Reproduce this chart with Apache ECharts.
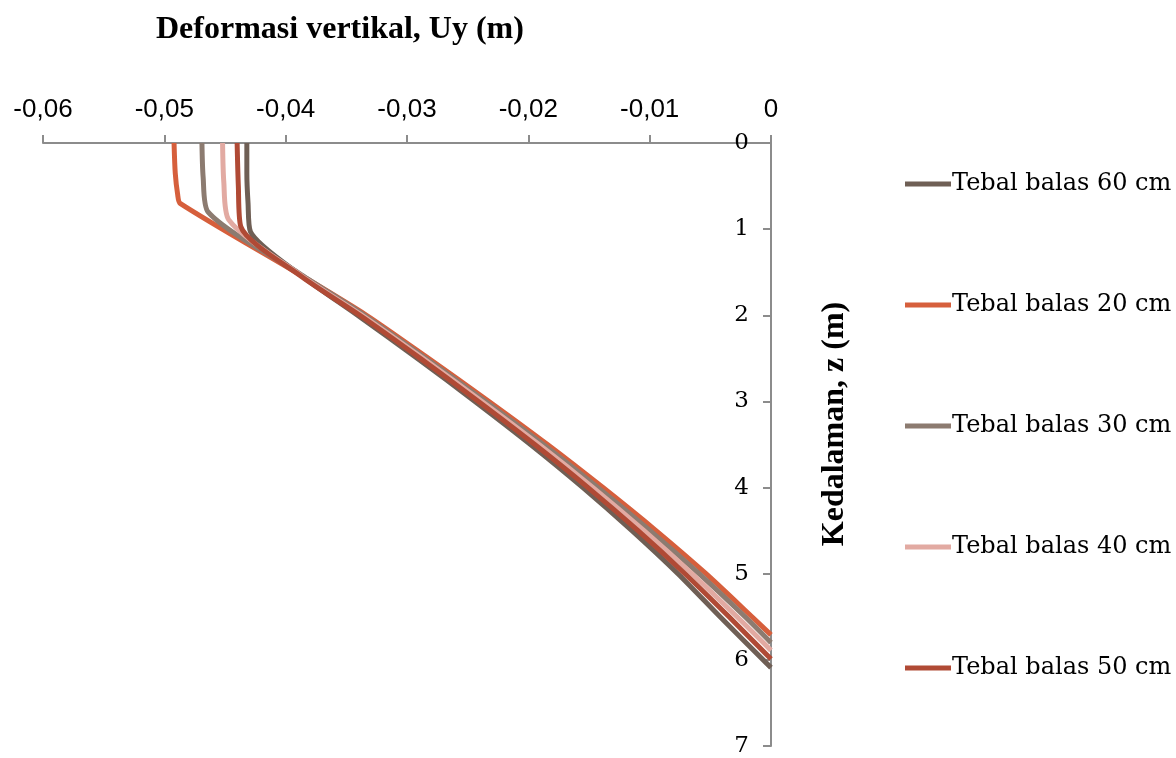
<!DOCTYPE html>
<html>
<head>
<meta charset="utf-8">
<script src="https://cdn.jsdelivr.net/npm/echarts@6/dist/echarts.min.js"></script>
<style>
html,body{margin:0;padding:0;background:#fff;}
#chart{width:1176px;height:758px;}
</style>
</head>
<body>
<div id="chart"></div>
<script>
// Series names (legend order)
var seriesNames = ['Tebal balas 60 cm','Tebal balas 20 cm','Tebal balas 30 cm','Tebal balas 40 cm','Tebal balas 50 cm'];
var seriesColors = ['#6F5F55','#D65F3C','#8C7B70','#E2AAA2','#B04A35'];

// Depth z (m) and vertical deformation Uy (m) for each series
var z60  = [0, 0.35, 0.7, 1.03, 1.55, 2, 2.5, 3, 3.5, 4, 4.5, 5, 5.5, 6.09];
var uy60 = [-0.0432, -0.0432, -0.0431, -0.0429, -0.0386, -0.03408, -0.02914, -0.02440, -0.01982, -0.01550, -0.01146, -0.00767, -0.00420, 0];

var z20  = [0, 0.35, 0.6, 0.7, 1.53, 2, 2.5, 3, 3.5, 4, 4.5, 5, 5.5, 5.71];
var uy20 = [-0.0492, -0.0491, -0.0489, -0.0487, -0.0388, -0.03334, -0.02823, -0.02324, -0.01842, -0.01385, -0.00948, -0.00536, -0.00157, 0];

var z30  = [0, 0.4, 0.8, 1.53, 2, 2.5, 3, 3.5, 4, 4.5, 5, 5.5, 5.80];
var uy30 = [-0.0469, -0.0468, -0.0464, -0.0387, -0.03352, -0.02846, -0.02353, -0.01877, -0.01426, -0.00997, -0.00593, -0.00214, 0];

var z40  = [0, 0.45, 0.89, 1.54, 2, 2.5, 3, 3.5, 4, 4.5, 5, 5.5, 5.89];
var uy40 = [-0.0452, -0.0451, -0.0447, -0.0387, -0.03371, -0.02868, -0.02382, -0.01912, -0.01467, -0.01047, -0.00651, -0.00280, 0];

var z50  = [0, 0.5, 0.97, 1.55, 2, 2.5, 3, 3.5, 4, 4.5, 5, 5.5, 5.99];
var uy50 = [-0.0440, -0.0439, -0.0437, -0.0387, -0.03389, -0.02891, -0.02411, -0.01947, -0.01508, -0.01096, -0.00709, -0.00346, 0];

var depthArrays = [z60, z20, z30, z40, z50];
var uyArrays = [uy60, uy20, uy30, uy40, uy50];

var xTitle = 'Deformasi vertikal, Uy (m)';
var yTitle = 'Kedalaman, z (m)';

function zip(xs, zs){ return xs.map(function(x,i){ return [x, zs[i]]; }); }

var series = seriesNames.map(function(name, i){
  return {
    name: name,
    type: 'line',
    data: zip(uyArrays[i], depthArrays[i]),
    showSymbol: false,
    symbol: 'none',
    smooth: 0.25,
    lineStyle: { width: 5, color: seriesColors[i], cap: 'butt', join: 'round' },
    itemStyle: { color: seriesColors[i] },
    animation: false
  };
});

var chart = echarts.init(document.getElementById('chart'), null, {renderer: 'canvas'});
chart.setOption({
  animation: false,
  backgroundColor: '#ffffff',
  title: {
    text: xTitle,
    left: 151,
    top: 9,
    textStyle: { fontFamily: 'Liberation Serif', fontWeight: 'bold', fontSize: 32, color: '#000' }
  },
  graphic: [{
    type: 'text',
    x: 835,
    y: 424,
    rotation: Math.PI / 2,
    style: {
      text: yTitle,
      fontFamily: 'Liberation Serif', fontWeight: 'bold', fontSize: 32, fill: '#000',
      align: 'center', verticalAlign: 'middle'
    }
  }],
  grid: { left: 43, right: 405, top: 143, bottom: 12, containLabel: false },
  xAxis: {
    type: 'value',
    position: 'top',
    min: -0.06, max: 0, interval: 0.01,
    axisLine: { show: true, lineStyle: { color: '#8c8c8c', width: 2 } },
    axisTick: { show: true, length: 8, lineStyle: { color: '#8c8c8c', width: 2 } },
    splitLine: { show: false },
    axisLabel: {
      margin: 20,
      fontFamily: 'Liberation Sans', fontSize: 26, color: '#000',
      formatter: function(v){ if (Math.abs(v) < 1e-9) return '0'; return v.toFixed(2).replace('.', ','); }
    }
  },
  yAxis: {
    type: 'value',
    position: 'right',
    inverse: true,
    min: 0, max: 7, interval: 1,
    axisLine: { show: true, lineStyle: { color: '#8c8c8c', width: 2 } },
    axisTick: { show: true, inside: true, length: 8, lineStyle: { color: '#8c8c8c', width: 2 } },
    splitLine: { show: false },
    axisLabel: {
      inside: true, margin: 22,
      fontFamily: 'DejaVu Serif', fontSize: 23, color: '#000'
    }
  },
  legend: {
    orient: 'vertical',
    left: 900,
    top: 167,
    itemGap: 97,
    itemWidth: 46,
    itemHeight: 5,
    icon: 'rect',
    textStyle: { fontFamily: 'DejaVu Serif', fontSize: 24, color: '#000', padding: [0,0,0,-4] },
    data: seriesNames
  },
  series: series
});
</script>
</body>
</html>
